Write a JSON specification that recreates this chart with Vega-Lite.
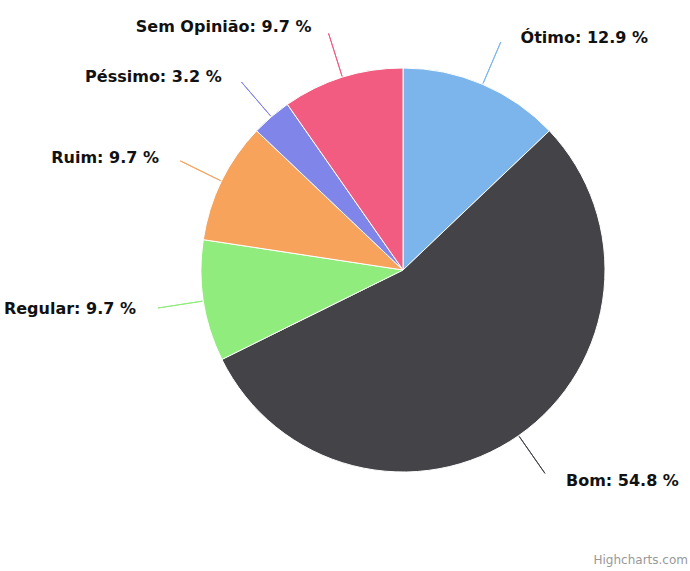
{
  "$schema": "https://vega.github.io/schema/vega-lite/v6.json",
  "autosize": "none",
  "width": 404,
  "height": 404,
  "padding": {"left": 201, "top": 68, "right": 85, "bottom": 99},
  "background": "white",
  "title": {"text": "Highcharts.com", "orient": "bottom", "anchor": "end", "frame": "group", "fontSize": 12, "fontWeight": "normal", "color": "#999999", "font": "DejaVu Sans", "dx": 83, "offset": 66},
  "data": {"values": [
    {"category": "Ótimo", "pct": 12.9},
    {"category": "Bom", "pct": 54.8},
    {"category": "Regular", "pct": 9.7},
    {"category": "Ruim", "pct": 9.7},
    {"category": "Péssimo", "pct": 3.2},
    {"category": "Sem Opinião", "pct": 9.7}
  ]},
  "transform": [{"window": [{"op": "row_number", "as": "rank"}]}],
  "layer": [
    {
      "mark": {"type": "arc", "outerRadius": 202, "stroke": "white", "strokeWidth": 1},
      "encoding": {
        "theta": {"field": "pct", "type": "quantitative", "stack": true},
        "order": {"field": "rank", "type": "quantitative"},
        "color": {"field": "category", "type": "nominal", "legend": null,
          "scale": {"domain": ["Ótimo", "Bom", "Regular", "Ruim", "Péssimo", "Sem Opinião"],
                    "range": ["#7cb5ec", "#434348", "#90ed7d", "#f7a35c", "#8085e9", "#f15c80"]}}
      }
    },
    {
      "transform": [
        {"fold": ["pct", "pct"], "as": ["k", "v"]},
        {"window": [{"op": "row_number", "as": "copy"}], "groupby": ["category"]},
        {"stack": "v", "groupby": [], "sort": [{"field": "rank", "order": "ascending"}, {"field": "copy", "order": "ascending"}], "as": ["s", "e"]}
      ],
      "mark": {"type": "arc", "filled": false, "strokeWidth": 1, "innerRadius": 203, "outerRadius": 248},
      "encoding": {
        "theta": {"field": "e", "type": "quantitative", "stack": null},
        "theta2": {"field": "e"},
        "color": {"field": "category", "type": "nominal", "legend": null},
        "strokeOpacity": {"condition": {"test": "datum.copy === 1", "value": 1}, "value": 0}
      }
    },
    {
      "transform": [{"calculate": "datum.category + ': ' + format(datum.pct, '.1f') + ' %'", "as": "label"}],
      "mark": {"type": "text", "radius": 255, "align": "left", "baseline": "middle", "dx": 17, "dy": 2, "font": "DejaVu Sans", "fontWeight": "bold", "fontSize": 16, "fill": "#111111"},
      "encoding": {
        "theta": {"field": "pct", "type": "quantitative", "stack": true},
        "order": {"field": "rank", "type": "quantitative"},
        "text": {"field": "label", "type": "nominal"},
        "opacity": {"condition": {"test": "datum.rank <= 2", "value": 1}, "value": 0}
      }
    },
    {
      "transform": [{"calculate": "datum.category + ': ' + format(datum.pct, '.1f') + ' %'", "as": "label"}],
      "mark": {"type": "text", "radius": 255, "align": "right", "baseline": "middle", "dx": -15, "dy": 0, "font": "DejaVu Sans", "fontWeight": "bold", "fontSize": 16, "fill": "#111111"},
      "encoding": {
        "theta": {"field": "pct", "type": "quantitative", "stack": true},
        "order": {"field": "rank", "type": "quantitative"},
        "text": {"field": "label", "type": "nominal"},
        "opacity": {"condition": {"test": "datum.rank > 2", "value": 1}, "value": 0}
      }
    }
  ],
  "resolve": {"scale": {"theta": "independent"}},
  "config": {"view": {"stroke": null}}
}
